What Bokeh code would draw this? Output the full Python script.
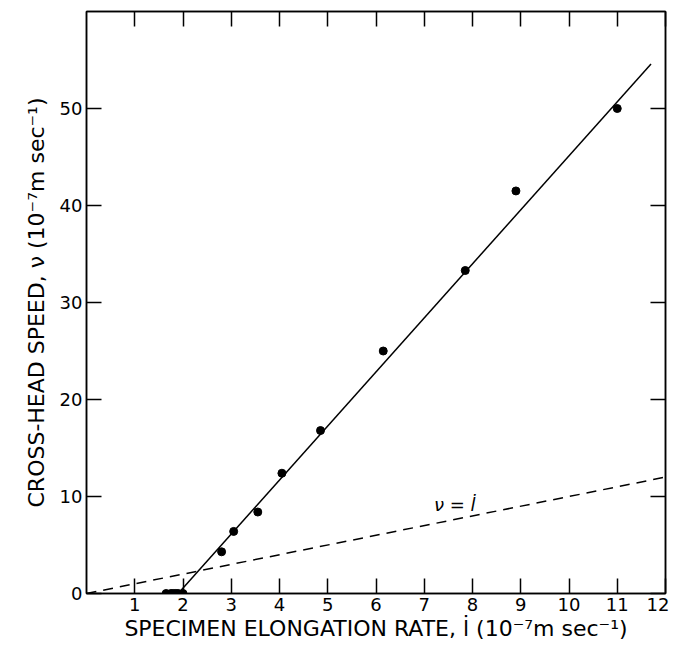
from bokeh.plotting import figure
from bokeh.models import LinearAxis, FixedTicker, Range1d, ColumnDataSource
from bokeh.core.properties import value
from bokeh.embed import file_html
from bokeh.resources import INLINE

# data
elong_rate = [1.65, 1.75, 1.8, 1.85, 1.9, 2.0, 2.8, 3.05, 3.55, 4.05, 4.85, 6.15, 7.85, 8.9, 11.0]
crosshead_speed = [0, 0, 0, 0, 0, 0, 4.3, 6.4, 8.4, 12.4, 16.8, 25.0, 33.3, 41.5, 50.0]
fit_x = [1.9, 11.7]
fit_y = [0.0, 54.6]
equal_x = [0, 12]
equal_y = [0, 12]
x_ticks = [1, 2, 3, 4, 5, 6, 7, 8, 9, 10, 11, 12]
y_ticks = [0, 10, 20, 30, 40, 50]
label_x = [7.2]
label_y = [9.2]
label_text = ["ν = l̇"]

FONT = "DejaVu Sans"

p = figure(width=669, height=649, output_backend="svg", toolbar_location=None,
           x_range=Range1d(0, 12), y_range=Range1d(0, 60),
           min_border_left=86, min_border_right=4, min_border_top=11, min_border_bottom=56,
           x_axis_location=None, y_axis_location=None)
p.grid.visible = False
p.outline_line_color = "black"
p.outline_line_width = 1.5
p.background_fill_color = "white"
p.border_fill_color = "white"

def style_axis(ax, ticks, show_labels):
    ax.ticker = FixedTicker(ticks=ticks)
    ax.major_tick_in = 15
    ax.major_tick_out = 0
    ax.minor_tick_in = 0
    ax.minor_tick_out = 0
    ax.axis_line_color = "black"
    ax.axis_line_width = 1.5
    ax.major_tick_line_color = "black"
    ax.major_tick_line_width = 1.5
    ax.major_label_text_font = FONT
    ax.major_label_text_font_size = "18px"
    ax.major_label_text_color = "black"
    if show_labels:
        ax.major_label_standoff = 4
    else:
        ax.major_label_overrides = {t: "" for t in ticks}
        ax.major_label_standoff = 0

bottom = LinearAxis(axis_label="SPECIMEN ELONGATION RATE, l̇ (10⁻⁷m sec⁻¹)")
style_axis(bottom, x_ticks, True)
bottom.axis_label_text_font = FONT
bottom.axis_label_text_font_size = "22px"
bottom.axis_label_text_font_style = "normal"
bottom.axis_label_text_color = "black"
bottom.axis_label_standoff = 2
p.add_layout(bottom, "below")

left = LinearAxis(axis_label="CROSS-HEAD SPEED, ν (10⁻⁷m sec⁻¹)")
style_axis(left, y_ticks, True)
left.axis_label_text_font = FONT
left.axis_label_text_font_size = "22px"
left.axis_label_text_font_style = "normal"
left.axis_label_text_color = "black"
left.axis_label_standoff = 8
p.add_layout(left, "left")

top = LinearAxis()
style_axis(top, x_ticks, False)
p.add_layout(top, "above")

right = LinearAxis()
style_axis(right, y_ticks, False)
p.add_layout(right, "right")

p.line(equal_x, equal_y, line_color="black", line_width=1.5, line_dash="10 7")
p.line(fit_x, fit_y, line_color="black", line_width=1.5)
p.scatter(elong_rate, crosshead_speed, size=8, color="black")

src = ColumnDataSource(dict(x=label_x, y=label_y, t=label_text))
p.text(x="x", y="y", text="t", source=src, text_font=value(FONT), text_font_size="18px",
       text_font_style="italic", text_color="black", text_baseline="alphabetic")

open("out.html", "w").write(file_html(p, INLINE))
